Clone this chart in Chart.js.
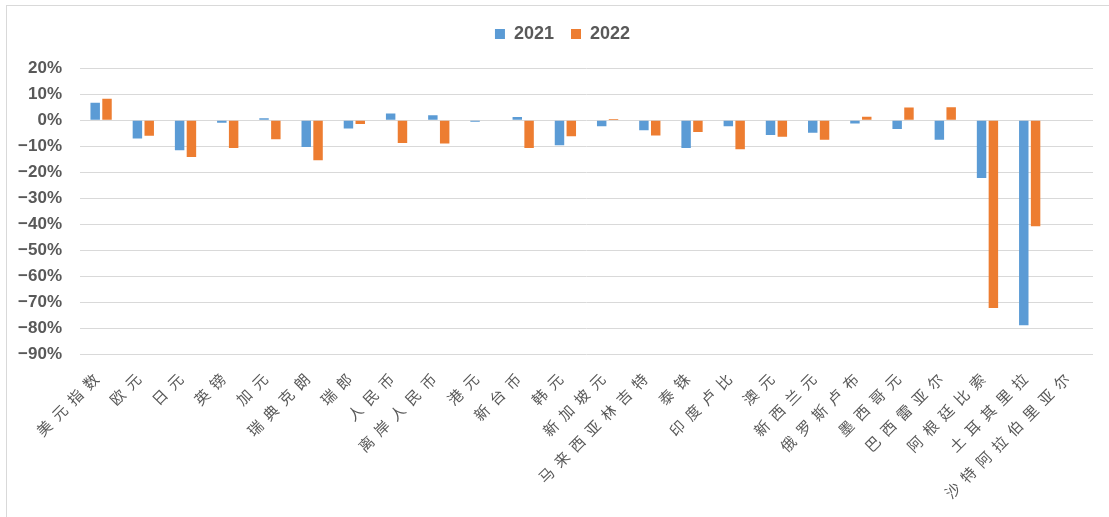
<!DOCTYPE html>
<html>
<head>
<meta charset="utf-8">
<script src="https://cdn.jsdelivr.net/npm/chart.js@4/dist/chart.umd.min.js"></script>
<style>
  html, body { margin: 0; padding: 0; background: #ffffff; }
  #wrap { position: relative; width: 1109px; height: 517px; }
</style>
</head>
<body>
<div id="wrap"><canvas id="fx" width="1109" height="517"></canvas></div>
<script>
// Currencies, in display order
const currencies = ['美元指数', '欧元', '日元', '英镑', '加元', '瑞典克朗', '瑞郎', '人民币', '离岸人民币', '港元',
  '新台币', '韩元', '新加坡元', '马来西亚林吉特', '泰铢', '印度卢比', '澳元', '新西兰元', '俄罗斯卢布', '墨西哥元',
  '巴西雷亚尔', '阿根廷比索', '土耳其里拉', '沙特阿拉伯里亚尔'];

// Yearly change against the US dollar, in percent
const change2021 = [6.7, -7.1, -11.6, -1.0, 0.7, -10.3, -3.2, 2.6, 1.9, -0.6,
  1.2, -9.7, -2.3, -3.9, -10.7, -2.3, -5.7, -4.8, -1.3, -3.4,
  -7.5, -22.3, -78.9, 0];
const change2022 = [8.2, -6.0, -14.2, -10.7, -7.3, -15.4, -1.5, -8.8, -9.0, 0,
  -10.7, -6.2, 0.4, -5.9, -4.6, -11.2, -6.4, -7.5, 1.3, 4.9,
  5.0, -72.3, -40.8, 0];

const seriesNames = ['2021', '2022'];
const yTicks = [20, 10, 0, -10, -20, -30, -40, -50, -60, -70, -80, -90];

const BLUE = '#5B9BD5';
const ORANGE = '#ED7D31';
const TEXT = '#595959';
const GRID = '#d9d9d9';

const framePlugin = {
  id: 'frame',
  beforeDraw(chart) {
    // outer frame
    const ctx = chart.ctx;
    ctx.save();
    ctx.strokeStyle = GRID;
    ctx.lineWidth = 1;
    ctx.strokeRect(6.5, 5.5, chart.width - 6, chart.height - 5);
    ctx.restore();

    // spaced-out category labels
    const xs = chart.scales.x;
    if (xs && !xs._spaced) {
      const orig = xs.drawLabels;
      xs.drawLabels = function (area) {
        this.ctx.save();
        this.ctx.letterSpacing = '7px';
        orig.call(this, area);
        this.ctx.restore();
      };
      xs._spaced = true;
    }
    // let the percent labels run past the narrow axis box
    const ys = chart.scales.y;
    if (ys) ys._computeLabelArea = () => undefined;
  }
};

new Chart(document.getElementById('fx'), {
  type: 'bar',
  data: {
    labels: currencies,
    datasets: [
      { label: seriesNames[0], data: change2021, backgroundColor: BLUE },
      { label: seriesNames[1], data: change2022, backgroundColor: ORANGE }
    ]
  },
  options: {
    responsive: false,
    animation: false,
    devicePixelRatio: 1,
    layout: { padding: { left: 32, right: 16, top: 8, bottom: 0 } },
    datasets: { bar: { categoryPercentage: 0.56, barPercentage: 0.8 } },
    plugins: {
      legend: {
        position: 'top',
        weight: 3000,
        labels: {
          boxWidth: 10,
          boxHeight: 10,
          padding: 17,
          color: TEXT,
          font: { family: "'Liberation Sans', Arial, sans-serif", size: 18, weight: 'bold' }
        }
      },
      title: {
        display: true,
        text: '',
        weight: 500,
        font: { size: 1 },
        padding: { top: 14, bottom: 0 }
      },
      tooltip: { enabled: false }
    },
    scales: {
      x: {
        grid: { display: false, drawTicks: false },
        border: { display: false },
        ticks: {
          autoSkip: false,
          minRotation: 45,
          maxRotation: 45,
          padding: 11,
          color: TEXT,
          font: { family: "'Noto Sans CJK SC', sans-serif", size: 15 }
        },
        afterFit(scale) { scale.height = 163; }
      },
      y: {
        min: -90,
        max: 20,
        afterBuildTicks(scale) { scale.ticks = yTicks.map(v => ({ value: v })); },
        grid: { color: GRID, lineWidth: 1, drawTicks: false },
        border: { display: false },
        ticks: {
          padding: 18,
          color: TEXT,
          font: { family: "'Liberation Sans', Arial, sans-serif", size: 17, weight: 'bold' },
          callback: v => (v < 0 ? '\u2212' + Math.abs(v) : v) + '%'
        },
        afterFit(scale) { scale.width = 48; }
      }
    }
  },
  plugins: [framePlugin]
});
</script>
</body>
</html>
